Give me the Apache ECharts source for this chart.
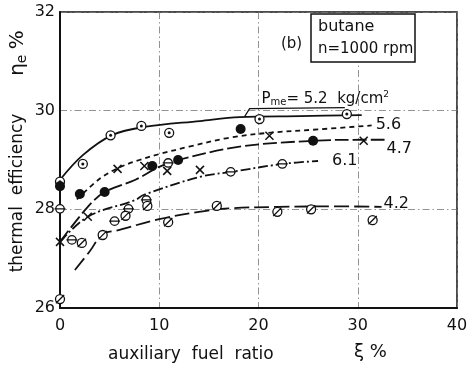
<!DOCTYPE html>
<html><head><meta charset="utf-8">
<script src="https://cdn.jsdelivr.net/npm/echarts@6/dist/echarts.min.js"></script>
<style>html,body{margin:0;padding:0;background:#fff}#c{width:471px;height:370px}</style>
</head><body><div id="c"></div>
<script>
// Thermal efficiency vs auxiliary fuel ratio, butane, n = 1000 rpm

// measured points, one set per mean effective pressure
const p52X = [0, 2.3, 5.1, 8.2, 11, 20.1, 28.9];
const p52Y = [28.56, 28.92, 29.5, 29.69, 29.55, 29.83, 29.93];
const p47X = [0, 2, 4.5, 9.3, 11.9, 18.2, 25.5];
const p47Y = [28.47, 28.31, 28.35, 28.88, 29.0, 29.63, 29.39];
const p56X = [0, 2.8, 5.8, 8.5, 10.8, 14.1, 21.1, 30.6];
const p56Y = [27.34, 27.85, 28.82, 28.88, 28.78, 28.8, 29.49, 29.39];
const p61X = [0, 1.2, 5.5, 6.9, 8.7, 10.9, 17.2, 22.4];
const p61Y = [28.01, 27.38, 27.76, 28.01, 28.19, 28.94, 28.76, 28.92];
const p42X = [0, 2.2, 4.3, 6.6, 8.8, 10.9, 15.8, 21.9, 25.3, 31.5];
const p42Y = [26.18, 27.32, 27.48, 27.87, 28.07, 27.74, 28.07, 27.95, 28.0, 27.78];

// faired curves through each set
const c52X = [0, 2.3, 5.3, 8.5, 14.1, 18.1, 24.2, 30.4];
const c52Y = [28.6, 29.1, 29.51, 29.67, 29.79, 29.87, 29.89, 29.91];
const c56X = [1.7, 4, 6, 8, 10, 13, 17, 21, 26, 31.4];
const c56Y = [28.2, 28.62, 28.85, 29.0, 29.12, 29.27, 29.45, 29.55, 29.62, 29.7];
const c47X = [0, 2.8, 4.5, 7.6, 10, 11.9, 18.1, 25.5, 30.6, 32.7];
const c47Y = [27.34, 28.05, 28.35, 28.6, 28.86, 29.0, 29.27, 29.39, 29.41, 29.41];
const c61X = [0, 2.8, 7.6, 8.4, 14.1, 17.3, 22.4, 26];
const c61Y = [27.34, 27.85, 28.19, 28.29, 28.66, 28.76, 28.92, 28.98];
const c42X = [1.5, 3, 4.3, 5.7, 10, 14, 17, 22, 28, 32.4];
const c42Y = [26.77, 27.15, 27.5, 27.57, 27.8, 27.95, 28.02, 28.05, 28.06, 28.05];

const curveNames = ['5.2', '5.6', '4.7', '6.1', '4.2'];
const xTicks = [0, 10, 20, 30, 40];
const yTicks = [26, 28, 30, 32];

const FONT = 'DejaVu Sans';
const INK = '#111';
const pair = (xs, ys) => xs.map((x, i) => [x, ys[i]]);

const ringBar = 'path://M-5,0A5,5 0 1 1 5,0A5,5 0 1 1 -5,0Z M-6.5,0L6.5,0';
const ringSlash = 'path://M-5,0A5,5 0 1 1 5,0A5,5 0 1 1 -5,0Z M-4.6,4.6L4.6,-4.6';
const cross = 'path://M-4,-4L4,4M-4,4L4,-4';

function curve(xs, ys, type, label, offset) {
  return {
    type: 'line', data: pair(xs, ys), smooth: 0.35, symbol: 'none', z: 3,
    lineStyle: { color: INK, width: 1.8, type: type },
    endLabel: label ? {
      show: true, formatter: label, color: INK, fontFamily: FONT, fontSize: 16,
      distance: 4, offset: offset || [0, 0]
    } : { show: false },
    silent: true, animation: false
  };
}
function marks(xs, ys, symbol, size, fill, border) {
  return {
    type: 'scatter', data: pair(xs, ys), symbol: symbol, symbolSize: size,
    symbolKeepAspect: true, z: 5, animation: false,
    itemStyle: { color: fill, borderColor: INK, borderWidth: border, opacity: 1 }
  };
}

const chart = echarts.init(document.getElementById('c'));
chart.setOption({
  animation: false,
  grid: { left: 60, right: 14, top: 12, bottom: 62, show: true, borderColor: INK, borderWidth: 1.5 },
  xAxis: {
    type: 'value', min: xTicks[0], max: xTicks[xTicks.length - 1], interval: 10,
    axisLine: { lineStyle: { color: INK, width: 2 } },
    axisTick: { show: false },
    axisLabel: { color: INK, fontFamily: FONT, fontSize: 16, margin: 10,
      formatter: v => xTicks.includes(v) ? String(v) : '' },
    splitLine: { show: true, lineStyle: { color: '#777', width: 0.8, type: [7, 3, 1.5, 3] } }
  },
  yAxis: {
    type: 'value', min: yTicks[0], max: yTicks[yTicks.length - 1], interval: 2,
    axisLine: { show: true, lineStyle: { color: INK, width: 2 } },
    axisTick: { show: false },
    axisLabel: { color: INK, fontFamily: FONT, fontSize: 16, margin: 5,
      formatter: v => yTicks.includes(v) ? String(v) : '' },
    splitLine: { show: true, lineStyle: { color: '#777', width: 0.8, type: [7, 3, 1.5, 3] } }
  },
  series: [
    curve(c52X, c52Y, 'solid', null),
    curve(c56X, c56Y, [5, 4], curveNames[1], [0, -1]),
    curve(c47X, c47Y, [14, 4], curveNames[2], [-2, 9]),
    curve(c61X, c61Y, [10, 3, 2, 3], curveNames[3], [10, 0]),
    curve(c42X, c42Y, [15, 5], curveNames[4], [-2, -3]),
    marks(p52X, p52Y, 'circle', 9, '#fff', 1.3),
    marks(p52X, p52Y, 'circle', 3, INK, 0),
    marks(p47X, p47Y, 'circle', 10, INK, 0),
    marks(p56X, p56Y, cross, 8, 'none', 1.5),
    marks(p61X, p61Y, ringBar, 11, '#fff', 1.3),
    marks(p42X, p42Y, ringSlash, 9, '#fff', 1.3)
  ]
});

// annotation for the top curve, anchored in data space
const at = (x, y) => chart.convertToPixel({ gridIndex: 0 }, [x, y]);
const lead0 = at(18.6, 29.88), lead1 = at(19.1, 30.04), lead2 = at(28.7, 30.06);
const pmeAt = at(20.3, 30.24);

chart.setOption({
  graphic: [
    { type: 'polyline', shape: { points: [lead0, lead1, lead2] },
      style: { stroke: INK, lineWidth: 1.2, fill: null }, z: 10 },
    { type: 'text', x: pmeAt[0], y: pmeAt[1], z: 10,
      style: { text: '{p|P}{s|me}{p|= 5.2  kg/cm}{u|2}', textVerticalAlign: 'middle',
        rich: {
          p: { fontFamily: FONT, fontSize: 15, fill: INK },
          s: { fontFamily: FONT, fontSize: 10, fill: INK, verticalAlign: 'bottom', padding: [6, 0, 0, 0] },
          u: { fontFamily: FONT, fontSize: 9, fill: INK, verticalAlign: 'top', padding: [0, 0, 8, 0] }
        } } },
    { type: 'text', x: 281, y: 44, z: 10,
      style: { text: '(b)', fontFamily: FONT, fontSize: 15, fill: INK, textVerticalAlign: 'middle' } },
    { type: 'rect', shape: { x: 311, y: 14, width: 104, height: 48 }, z: 10,
      style: { fill: '#fff', stroke: INK, lineWidth: 1.5 } },
    { type: 'text', x: 318, y: 27, z: 11,
      style: { text: 'butane', fontFamily: FONT, fontSize: 16, fill: INK, textVerticalAlign: 'middle' } },
    { type: 'text', x: 318, y: 49, z: 11,
      style: { text: 'n=1000 rpm', fontFamily: FONT, fontSize: 15, fill: INK, textVerticalAlign: 'middle' } },
    { type: 'text', x: 18, y: 53, rotation: Math.PI / 2, z: 10,
      style: { text: '{a|η}{b|e} {a|%}', textAlign: 'center', textVerticalAlign: 'middle',
        rich: {
          a: { fontFamily: FONT, fontSize: 20, fill: INK },
          b: { fontFamily: FONT, fontSize: 14, fill: INK, verticalAlign: 'bottom', padding: [8, 2, 0, 0] }
        } } },
    { type: 'text', x: 18, y: 193, rotation: Math.PI / 2, z: 10,
      style: { text: 'thermal  efficiency', fontFamily: FONT, fontSize: 17, fill: INK,
        textAlign: 'center', textVerticalAlign: 'middle' } },
    { type: 'text', x: 108, y: 355, z: 10,
      style: { text: 'auxiliary  fuel  ratio', fontFamily: FONT, fontSize: 17, fill: INK, textVerticalAlign: 'middle' } },
    { type: 'text', x: 354, y: 352, z: 10,
      style: { text: 'ξ %', fontFamily: FONT, fontSize: 18, fill: INK, textVerticalAlign: 'middle' } }
  ]
});
</script>
</body></html>
